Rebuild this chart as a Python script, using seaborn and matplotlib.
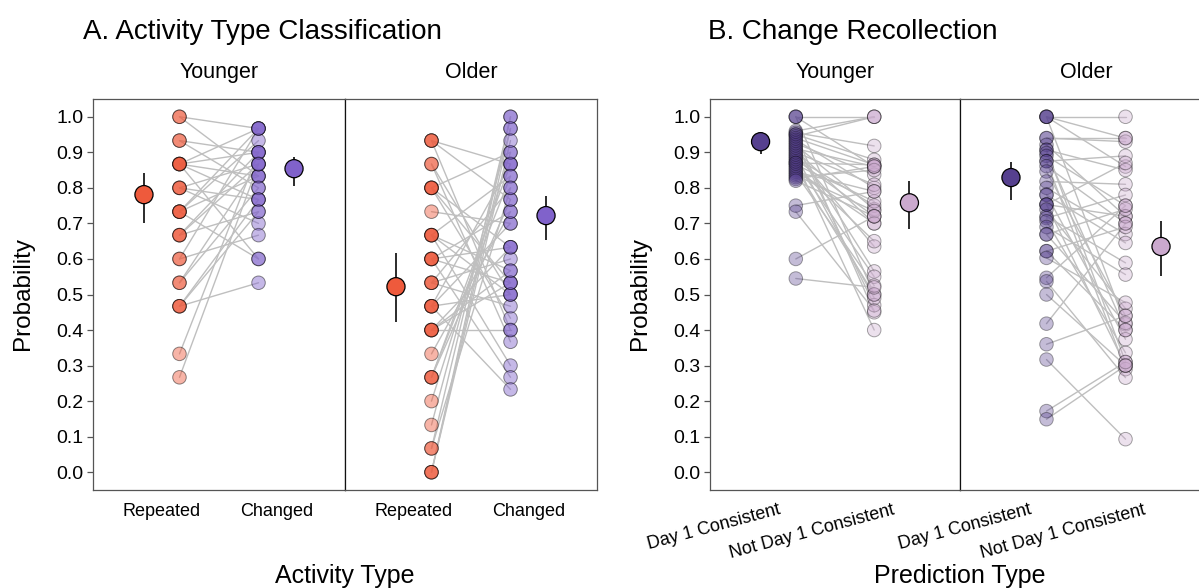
import numpy as np
import pandas as pd
import matplotlib
matplotlib.use("Agg")
import matplotlib.pyplot as plt
import seaborn as sns

# ---------------- data ----------------
a_categories = ["Repeated", "Changed"]
b_categories = ["Day 1 Consistent", "Not Day 1 Consistent"]
groups = ["Younger", "Older"]

# Panel A, Younger: per-subject probabilities (Repeated, Changed)
a_young_rep = [1.0, 1.0, 0.933, 0.933, 0.867, 0.867, 0.867, 0.867, 0.867, 0.8, 0.8, 0.8,
               0.733, 0.733, 0.733, 0.733, 0.667, 0.667, 0.667, 0.6, 0.6, 0.533, 0.533,
               0.467, 0.467, 0.467, 0.333, 0.267]
a_young_chg = [0.967, 0.833, 0.9, 0.8, 0.967, 0.9, 0.6, 0.833, 0.767, 0.867, 0.7, 0.767,
               0.6, 0.833, 0.967, 0.933, 0.9, 0.867, 0.733, 0.967, 0.667, 0.8, 0.867,
               0.533, 0.767, 0.733, 0.9, 0.867]
# Panel A, Older
a_old_rep = [0.933, 0.933, 0.933, 0.867, 0.867, 0.8, 0.8, 0.8, 0.8, 0.733,
             0.667, 0.667, 0.667, 0.667, 0.6, 0.6, 0.6, 0.6, 0.533, 0.533, 0.533,
             0.467, 0.467, 0.467, 0.467, 0.4, 0.4, 0.4, 0.4, 0.333,
             0.267, 0.267, 0.267, 0.2, 0.133, 0.067, 0.067, 0.0, 0.0, 0.0]
a_old_chg = [0.867, 0.4, 0.767, 0.5, 0.367, 0.533, 0.9, 0.433, 0.633, 0.7,
             0.5, 0.833, 0.567, 0.3, 0.633, 0.533, 0.733, 0.267, 0.8, 0.467, 0.6,
             0.7, 0.5, 0.867, 0.233, 0.533, 0.633, 0.567, 0.4, 0.733,
             0.867, 0.833, 0.767, 0.9, 0.967, 1.0, 0.8, 1.0, 0.967, 0.933]
# Panel B, Younger (Day 1 consistent, not Day 1 consistent)
b_young_d1 = [1.0, 1.0, 1.0, 0.96, 0.955, 0.95, 0.95, 0.945, 0.94, 0.935, 0.93, 0.925,
              0.92, 0.915, 0.91, 0.905, 0.9, 0.895, 0.89, 0.885, 0.88, 0.875, 0.87, 0.87,
              0.865, 0.86, 0.855, 0.85, 0.845, 0.84, 0.835, 0.83, 0.825, 0.82, 0.75,
              0.733, 0.6, 0.545]
b_young_nd1 = [1.0, 0.86, 0.5, 1.0, 0.918, 0.879, 0.45, 1.0, 0.865, 0.8,
               0.47, 0.837, 0.74, 0.565, 0.86, 0.7, 0.809, 0.635, 0.49, 0.75,
               0.72, 0.4, 0.865, 0.55, 0.762, 0.65, 0.5, 0.7, 0.79, 0.525,
               0.735, 0.85, 0.86, 0.72, 0.79, 0.455, 0.72, 0.52]
# Panel B, Older
b_old_d1 = [1.0, 1.0, 1.0, 1.0, 0.94, 0.94, 0.921, 0.907, 0.907, 0.898, 0.89, 0.875,
            0.875, 0.861, 0.846, 0.818, 0.80, 0.781, 0.78, 0.753, 0.753, 0.753, 0.739,
            0.72, 0.715, 0.706, 0.69, 0.669, 0.669, 0.622, 0.622, 0.603, 0.547, 0.537,
            0.5, 0.418, 0.36, 0.317, 0.172, 0.149]
b_old_nd1 = [1.0, 0.94, 0.416, 0.86, 0.93, 0.94, 0.72, 0.31, 0.85, 0.40,
             0.75, 0.89, 0.29, 0.70, 0.44, 0.81, 0.67, 0.374, 0.645, 0.87,
             0.72, 0.30, 0.46, 0.589, 0.78, 0.336, 0.556, 0.74, 0.42, 0.69,
             0.40, 0.477, 0.75, 0.266, 0.30, 0.70, 0.44, 0.093, 0.31, 0.30]

# group means with 95% CI (per category)
a_young_mean = [0.781, 0.854]
a_young_lo = [0.702, 0.806]
a_young_hi = [0.843, 0.888]
a_old_mean = [0.522, 0.722]
a_old_lo = [0.424, 0.654]
a_old_hi = [0.618, 0.778]
b_young_mean = [0.930, 0.758]
b_young_lo = [0.896, 0.685]
b_young_hi = [0.955, 0.820]
b_old_mean = [0.829, 0.635]
b_old_lo = [0.767, 0.553]
b_old_hi = [0.874, 0.708]

# ---------------- style ----------------
sns.set_theme(style="white")
plt.rcParams["font.family"] = ["Liberation Sans", "DejaVu Sans"]
plt.rcParams["text.color"] = "black"
plt.rcParams["xtick.color"] = "black"
plt.rcParams["ytick.color"] = "black"
plt.rcParams["xtick.labelcolor"] = "black"
plt.rcParams["ytick.labelcolor"] = "black"

a_colors = ["#EE5A3C", "#8062CB"]
b_colors = ["#56408F", "#CBA9CE"]
LINE_GREY = "#BFBFBF"
FRAME = "#555555"

W, H = 1199, 588
fig = plt.figure(figsize=(W / 100, H / 100), dpi=100)


def add_ax(left, right, bottom=490, top=99):
    return fig.add_axes([left / W, 1 - bottom / H, (right - left) / W, (bottom - top) / H])


OFF = 0.155


def draw_facet(ax, cats, v0, v1, means, lo, hi, colors, alpha, first, title, rot=False):
    assert len(v0) == len(v1)
    n = len(v0)
    df = pd.DataFrame({
        "subject": list(range(n)) * 2,
        "cat": [cats[0]] * n + [cats[1]] * n,
        "value": list(v0) + list(v1),
    })
    idx = df["cat"].map({cats[0]: 0, cats[1]: 1})
    df["x"] = np.where(idx == 0, 0 + OFF, 1 - OFF)

    sns.lineplot(data=df, x="x", y="value", units="subject", estimator=None,
                 color=LINE_GREY, linewidth=1.0, ax=ax, legend=False, zorder=1)
    sns.scatterplot(data=df, x="x", y="value", hue="cat", palette=dict(zip(cats, colors)),
                    s=95, alpha=alpha, edgecolor="black", linewidth=0.7, ax=ax,
                    legend=False, zorder=3)

    mdf = pd.DataFrame({"cat": cats, "mean": means, "lo": lo, "hi": hi})
    mdf["x"] = [0 - OFF, 1 + OFF]
    ax.vlines(mdf["x"], mdf["lo"], mdf["hi"], color="#1a1a1a", linewidth=1.3, zorder=4)
    sns.scatterplot(data=mdf, x="x", y="mean", hue="cat", palette=dict(zip(cats, colors)),
                    s=170, edgecolor="black", linewidth=0.9, alpha=1, ax=ax,
                    legend=False, zorder=5)

    ax.set_xlim(-0.6, 1.6)
    ax.set_ylim(-0.05, 1.05)
    ax.set_xticks([0, 1])
    if rot:
        ax.set_xticklabels(cats, fontsize=13, rotation=15, ha="right", va="top",
                           rotation_mode="anchor")
        ax.tick_params(axis="x", length=0, pad=8)
    else:
        ax.set_xticklabels(cats, fontsize=13)
        ax.tick_params(axis="x", length=0, pad=9)
    ax.set_yticks(np.arange(0, 1.01, 0.1))
    if first:
        ax.set_yticklabels([f"{v:.1f}" for v in np.arange(0, 1.01, 0.1)], fontsize=14)
        ax.tick_params(axis="y", length=4, width=0.9, color=FRAME, pad=3, left=True)
    else:
        ax.set_yticklabels([])
        ax.tick_params(axis="y", length=0)
    ax.set_xlabel("")
    ax.set_ylabel("")
    for side, sp in ax.spines.items():
        sp.set_visible(True)
        sp.set_color(FRAME)
        sp.set_linewidth(0.9)
    if not first:
        ax.spines["left"].set_color("#111111")
    ax.text(0.5, 1 + 21 / 391, title, transform=ax.transAxes, ha="center",
            va="baseline", fontsize=15.5, color="black")


# Panel A
ax_ay = add_ax(93, 345)
ax_ao = add_ax(345, 597)
draw_facet(ax_ay, a_categories, a_young_rep, a_young_chg, a_young_mean, a_young_lo,
           a_young_hi, a_colors, 0.45, True, groups[0])
draw_facet(ax_ao, a_categories, a_old_rep, a_old_chg, a_old_mean, a_old_lo,
           a_old_hi, a_colors, 0.45, False, groups[1])

# Panel B
ax_by = add_ax(710, 960)
ax_bo = add_ax(960, 1212)
draw_facet(ax_by, b_categories, b_young_d1, b_young_nd1, b_young_mean, b_young_lo,
           b_young_hi, b_colors, 0.35, True, groups[0], rot=True)
draw_facet(ax_bo, b_categories, b_old_d1, b_old_nd1, b_old_mean, b_old_lo,
           b_old_hi, b_colors, 0.35, False, groups[1], rot=True)

# titles and axis labels
fig.text(83 / W, 1 - 39 / H, "A. Activity Type Classification", ha="left",
         va="baseline", fontsize=20)
fig.text(708 / W, 1 - 39 / H, "B. Change Recollection", ha="left",
         va="baseline", fontsize=20)
fig.text(23 / W, 1 - 294 / H, "Probability", rotation=90, ha="center", va="center",
         fontsize=17.5)
fig.text(640 / W, 1 - 294 / H, "Probability", rotation=90, ha="center", va="center",
         fontsize=17.5)
fig.text(345 / W, 1 - 583 / H, "Activity Type", ha="center", va="baseline", fontsize=18)
fig.text(960 / W, 1 - 583 / H, "Prediction Type", ha="center", va="baseline", fontsize=18)

fig.savefig("out.png", dpi=100, facecolor="white")
